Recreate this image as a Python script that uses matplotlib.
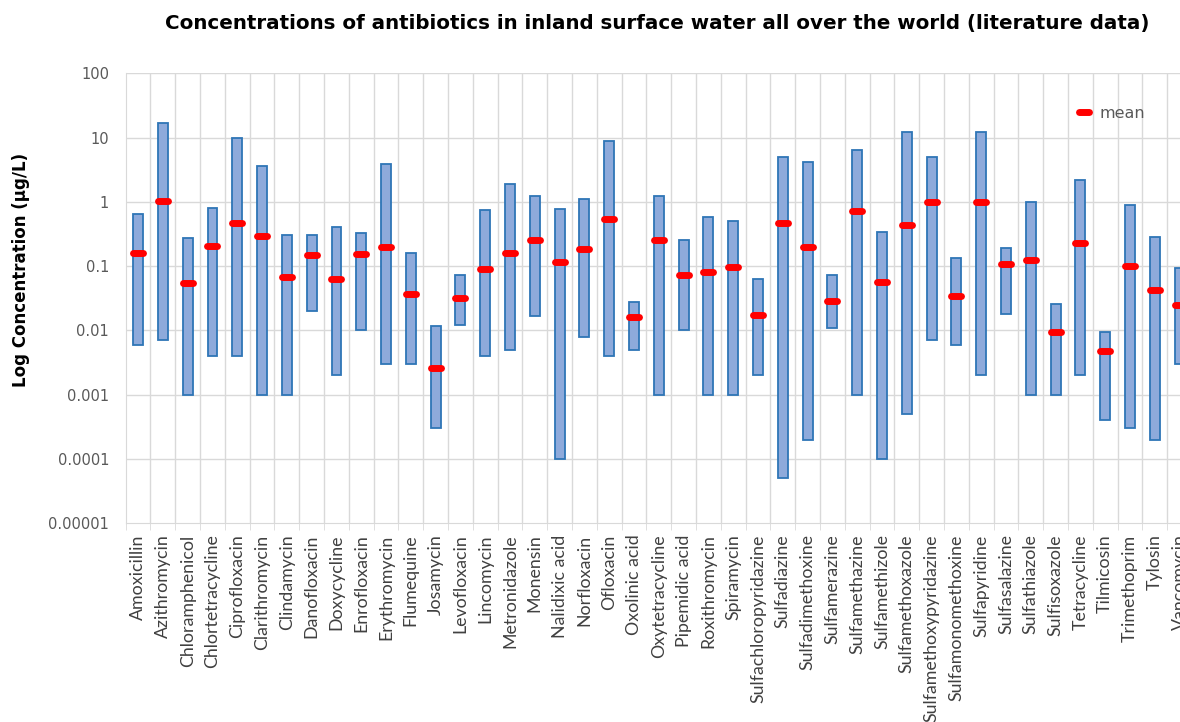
import matplotlib
matplotlib.use("Agg")
import matplotlib.pyplot as plt
from matplotlib.markers import MarkerStyle
import numpy as np

# antibiotic names along the x axis
antibiotics = [
    "Amoxicillin", "Azithromycin", "Chloramphenicol", "Chlortetracycline",
    "Ciprofloxacin", "Clarithromycin", "Clindamycin", "Danofloxacin",
    "Doxycycline", "Enrofloxacin", "Erythromycin", "Flumequine", "Josamycin",
    "Levofloxacin", "Lincomycin", "Metronidazole", "Monensin", "Nalidixic acid",
    "Norfloxacin", "Ofloxacin", "Oxolinic acid", "Oxytetracycline",
    "Pipemidic acid", "Roxithromycin", "Spiramycin", "Sulfachloropyridazine",
    "Sulfadiazine", "Sulfadimethoxine", "Sulfamerazine", "Sulfamethazine",
    "Sulfamethizole", "Sulfamethoxazole", "Sulfamethoxypyridazine",
    "Sulfamonomethoxine", "Sulfapyridine", "Sulfasalazine", "Sulfathiazole",
    "Sulfisoxazole", "Tetracycline", "Tilmicosin", "Trimethoprim", "Tylosin",
    "Vancomycin",
]

# minimum / maximum / mean concentration (ug/L)
conc_min = [
    0.006, 0.007, 0.001, 0.004, 0.004, 0.001, 0.001, 0.02, 0.002, 0.01,
    0.003, 0.003, 0.0003, 0.012, 0.004, 0.005, 0.017, 0.0001, 0.008, 0.004,
    0.005, 0.001, 0.01, 0.001, 0.001, 0.002, 0.00005, 0.0002, 0.011, 0.001,
    0.0001, 0.0005, 0.007, 0.006, 0.002, 0.018, 0.001, 0.001, 0.002, 0.0004,
    0.0003, 0.0002, 0.003,
]
conc_max = [
    0.64, 17.0, 0.275, 0.8, 9.8, 3.6, 0.31, 0.31, 0.41, 0.33,
    3.9, 0.158, 0.0116, 0.073, 0.74, 1.88, 1.25, 0.78, 1.12, 9.0,
    0.028, 1.25, 0.256, 0.58, 0.5, 0.063, 5.06, 4.1, 0.073, 6.35,
    0.34, 12.2, 5.06, 0.136, 12.2, 0.19, 0.98, 0.026, 2.17, 0.0096,
    0.885, 0.285, 0.095,
]
conc_mean = [
    0.158, 1.02, 0.054, 0.204, 0.476, 0.295, 0.068, 0.148, 0.063, 0.153,
    0.199, 0.0374, 0.00265, 0.0324, 0.0906, 0.158, 0.256, 0.114, 0.183, 0.536,
    0.0162, 0.256, 0.073, 0.0813, 0.0973, 0.0172, 0.465, 0.199, 0.0292, 0.723,
    0.0562, 0.443, 1.0, 0.0348, 0.99, 0.108, 0.126, 0.0093, 0.23, 0.0048,
    0.1, 0.0422, 0.0249,
]

ytick_values = [1e-5, 1e-4, 1e-3, 1e-2, 1e-1, 1, 10, 100]
ytick_labels = ["0.00001", "0.0001", "0.001", "0.01", "0.1", "1", "10", "100"]

x = np.arange(len(antibiotics))
lo = np.array(conc_min)
hi = np.array(conc_max)

fig = plt.figure(figsize=(11.8, 7.22), dpi=100)
ax = fig.add_axes([0.1065, 0.2752, 0.9037, 0.6233])

grid_col = "#d9d9d9"
ax.set_yscale("log")
ax.set_ylim(1e-5, 100)
ax.set_xlim(-0.5, len(antibiotics) - 0.5)

# gridlines: decades and category boundaries
for v in ytick_values[1:]:
    ax.axhline(v, color=grid_col, lw=1.0, zorder=0)
for b in np.arange(0.5, len(antibiotics) - 0.5, 1):
    ax.axvline(b, color=grid_col, lw=1.0, zorder=0)

ax.bar(x, hi - lo, bottom=lo, width=0.4, color="#8eaadb",
       edgecolor="#2e75b6", linewidth=1.3, zorder=2)

dash = MarkerStyle("_", capstyle="round")
ax.plot(x, conc_mean, linestyle="none", marker=dash, markersize=7,
        markeredgewidth=5, color="#ff0000", zorder=3, label="mean")

ax.set_yticks(ytick_values)
ax.set_yticklabels(ytick_labels)
ax.yaxis.set_minor_locator(matplotlib.ticker.NullLocator())
ax.tick_params(axis="y", length=0, pad=12, labelsize=10.5, labelcolor="#595959")

ax.set_xticks(x)
ax.set_xticklabels(antibiotics, rotation=90, fontsize=12.8, family="Lato",
                   color="#404040")
ax.tick_params(axis="x", length=0, pad=8)
ax.set_xticks(np.arange(-0.5, len(antibiotics), 1), minor=True)
ax.tick_params(axis="x", which="minor", length=5, color=grid_col)

for side in ["top", "right"]:
    ax.spines[side].set_visible(False)
for side in ["left", "bottom"]:
    ax.spines[side].set_color(grid_col)

ax.set_ylabel("Log Concentration (µg/L)", fontsize=12, fontweight="bold")
ax.yaxis.set_label_coords(-0.09, 0.563)
fig.text(0.557, 0.968,
         "Concentrations of antibiotics in inland surface water all over the world (literature data)",
         ha="center", va="center", fontsize=14.3, fontweight="bold")

fig.legend(loc="center left", bbox_to_anchor=(0.898, 0.843), frameon=False,
           fontsize=11.5, labelcolor="#595959", handlelength=1.2,
           handletextpad=0.4)

fig.savefig("out.png", dpi=100)
